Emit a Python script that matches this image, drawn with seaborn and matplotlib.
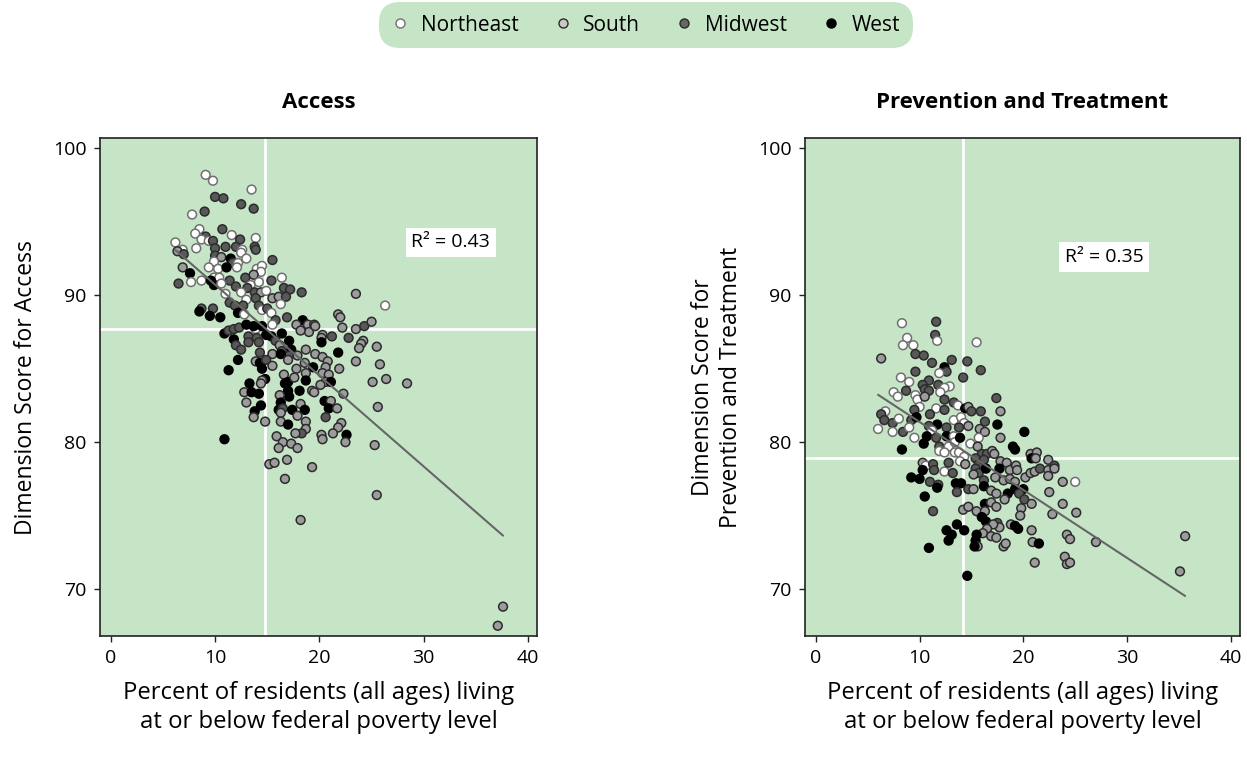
import numpy as np
import pandas as pd
import matplotlib
matplotlib.use('Agg')
import matplotlib.pyplot as plt
from matplotlib.lines import Line2D
import seaborn as sns

# Region names and marker styles
REGIONS = ['Northeast', 'South', 'Midwest', 'West']
CODES = {'N': 'Northeast', 'S': 'South', 'M': 'Midwest', 'W': 'West'}
FILL = {'Northeast': '#ffffff', 'South': '#9c9c9c', 'Midwest': '#585858', 'West': '#000000'}
EDGE = {'Northeast': '#707070', 'South': '#2b2b2b', 'Midwest': '#2b2b2b', 'West': '#000000'}
LEGEND_FILL = {'Northeast': '#ffffff', 'South': '#c8c8c8', 'Midwest': '#666666', 'West': '#000000'}
BG = '#c6e5c7'

# Panel 1: Access
access_poverty = [
    9.1, 9.8, 13.5, 10.0, 10.8, 12.5, 13.7, 9.0, 7.8, 10.7,
    8.5, 8.1, 11.6, 13.9, 9.1, 8.7, 9.4, 9.8, 6.2, 12.4,
    11.0, 12.0, 12.6, 13.8, 13.9, 10.0, 8.2, 6.9, 6.4, 7.0,
    10.0, 10.6, 11.5, 12.5, 13.0, 9.9, 11.7, 12.2, 15.5, 6.9,
    9.4, 10.3, 11.1, 12.1, 14.0, 14.5, 14.4, 7.6, 9.9, 10.4,
    11.4, 12.9, 13.7, 16.4, 6.5, 7.7, 8.7, 9.6, 9.9, 10.6,
    14.2, 15.4, 12.0, 13.4, 13.1, 11.0, 12.5, 13.8, 14.4, 14.9,
    16.6, 17.2, 18.3, 15.5, 16.1, 16.8, 13.0, 13.9, 11.4, 11.9,
    12.7, 16.3, 8.7, 8.5, 9.8, 14.2, 14.5, 15.0, 15.4, 9.5,
    10.5, 12.2, 12.8, 16.9, 15.8, 18.4, 17.8, 18.9, 19.5, 15.5,
    19.0, 18.2, 10.9, 11.3, 11.8, 12.3, 13.0, 13.9, 13.7, 14.5,
    14.9, 15.4, 16.4, 15.8, 16.2, 11.8, 13.2, 14.0, 12.0, 12.5,
    13.2, 14.2, 17.1, 17.3, 16.4, 17.1, 17.9, 18.7, 14.3, 15.5,
    16.3, 17.0, 12.2, 13.9, 14.3, 14.9, 14.5, 15.5, 19.4, 18.6,
    11.3, 16.6, 17.8, 18.7, 14.8, 14.5, 14.4, 17.0, 16.7, 17.6,
    18.7, 13.3, 12.8, 13.5, 14.2, 17.0, 17.1, 16.2, 18.1, 19.3,
    19.5, 13.0, 14.4, 16.3, 13.8, 16.1, 16.5, 16.3, 17.4, 18.2,
    18.6, 17.9, 13.7, 14.8, 16.3, 17.0, 18.7, 18.7, 18.3, 17.7,
    15.9, 10.9, 16.5, 17.3, 17.9, 16.1, 16.9, 15.2, 15.7, 19.3,
    16.7, 23.5, 26.3, 21.8, 22.0, 19.6, 20.3, 22.2, 23.5,
    24.3, 25.0, 21.2, 22.8, 20.2, 20.2, 24.2, 24.0, 23.8, 25.5,
    19.6, 20.3, 20.8, 21.8, 23.5, 25.8, 20.6, 21.9, 20.3, 20.9,
    26.4, 25.1, 28.4, 20.6, 21.1, 20.1, 22.3, 20.5, 21.1, 20.9,
    21.7, 25.6, 20.6, 22.1, 21.8, 21.3, 20.2, 20.3, 22.6, 22.5,
    25.3, 25.5, 18.2, 37.6, 37.1,
]
access_score = [
    98.2, 97.8, 97.2, 96.7, 96.6, 96.2, 95.9, 95.7, 95.5, 94.5,
    94.5, 94.2, 94.1, 93.9, 94.0, 93.8, 93.7, 93.7, 93.6, 93.8,
    93.3, 93.3, 93.1, 93.3, 93.1, 93.2, 93.2, 93.1, 93.0, 92.8,
    92.7, 92.6, 92.5, 92.9, 92.5, 92.3, 92.2, 92.2, 92.4, 91.9,
    91.9, 91.8, 91.9, 91.9, 91.8, 92.0, 91.6, 91.5, 91.2, 91.2,
    91.0, 91.2, 91.4, 91.2, 90.8, 90.9, 91.0, 91.0, 90.7, 90.8,
    90.9, 91.0, 90.6, 90.7, 90.5, 90.1, 90.2, 90.2, 90.2, 90.3,
    90.5, 90.4, 90.2, 89.8, 89.9, 89.9, 89.7, 89.8, 89.5, 89.3,
    89.3, 89.4, 89.1, 88.9, 89.1, 89.3, 89.0, 89.1, 88.8, 88.6,
    88.5, 88.8, 88.7, 88.5, 88.3, 88.3, 88.0, 88.0, 88.0, 88.0,
    87.5, 87.6, 87.4, 87.6, 87.7, 87.8, 88.0, 87.7, 87.9, 87.9,
    87.3, 87.2, 87.4, 86.9, 86.6, 87.0, 87.2, 87.1, 86.6, 86.3,
    86.8, 86.8, 86.9, 86.3, 86.2, 85.9, 85.9, 86.3, 86.1, 86.0,
    86.0, 85.6, 85.6, 85.5, 85.4, 85.6, 85.0, 85.2, 85.1, 85.4,
    84.9, 84.6, 85.0, 84.7, 84.3, 84.2, 84.0, 84.1, 84.0, 84.4,
    84.2, 84.0, 83.4, 83.4, 83.3, 83.5, 83.1, 83.2, 83.5, 83.5,
    83.4, 82.7, 82.5, 82.7, 82.1, 82.2, 82.3, 82.0, 82.2, 82.6,
    82.2, 81.8, 81.7, 81.4, 81.4, 81.2, 81.4, 80.9, 80.6, 80.6,
    80.4, 80.2, 80.0, 79.9, 79.6, 79.6, 78.8, 78.5, 78.6, 78.3,
    77.5, 90.1, 89.3, 88.7, 88.5, 87.9, 87.3, 87.8, 87.7,
    87.9, 88.2, 87.2, 87.1, 87.1, 86.8, 86.9, 86.7, 86.4, 86.5,
    86.0, 85.8, 85.5, 86.1, 85.5, 85.3, 85.1, 85.0, 84.7, 84.6,
    84.3, 84.1, 84.0, 84.1, 84.1, 83.9, 83.3, 82.8, 82.8, 82.3,
    82.3, 82.4, 81.7, 81.3, 81.0, 80.6, 80.5, 80.2, 80.5, 80.0,
    79.8, 76.4, 74.7, 68.8, 67.5,
]
access_region = (
    "NNNMMMMMNM" "NNNNMNNMNM" "MMNMMMNNSM" "MSWNNNMNMS" "NNWNNNNWNN"
    "MMSNMNNWWN" "NMMNMNNMSN" "MMMSSMNMMM" "MNMWMMNMNW" "WWNMMWSSSN"
    "SSWMMMWNWW" "WWWMSWMMMM" "MMWWMMSSMS" "WSWSWMWSWS" "WSSSWSSWWS"
    "WWSWWWWSWS" "SSWWWWMSWS" "WSSSSWSSMS" "SWSSSSSSSS" "SSNSSSSSS"
    "MSMMSWSSSS" "SSSWSSSSSS" "SSSSWSSWSW" "SSMSSSSSWS" "SSSSS"
)

# Panel 2: Prevention and Treatment
prev_poverty = [
    8.3, 11.6, 11.5, 8.8, 8.4, 9.4, 11.7, 15.5, 6.3, 9.6,
    10.4, 11.2, 13.1, 14.6, 15.9, 12.4, 12.6, 11.9, 9.6, 14.2,
    8.2, 9.0, 10.9, 10.3, 11.8, 12.9, 12.4, 12.0, 8.7, 7.5,
    7.9, 9.6, 9.8, 10.5, 10.9, 10.5, 12.4, 13.3, 13.7, 17.4,
    10.0, 9.5, 11.6, 12.4, 14.4, 14.7, 15.0, 15.9, 17.8, 6.7,
    6.3, 6.6, 7.4, 8.0, 8.4, 7.4, 6.0, 9.2, 9.7, 9.0,
    9.5, 11.0, 11.7, 10.9, 11.2, 12.6, 13.3, 14.0, 14.3, 13.8,
    14.7, 16.3, 17.5, 15.8, 16.3, 15.7, 17.8, 20.1, 10.7, 11.6,
    12.6, 13.3, 11.9, 12.8, 13.4, 13.9, 14.9, 15.6, 10.4, 8.3,
    11.9, 12.4, 13.4, 13.8, 14.3, 13.9, 14.4, 16.0, 16.5, 17.0,
    17.2, 19.0, 19.2, 20.7, 21.3, 20.8, 21.2, 22.4, 15.4, 15.7,
    16.2, 17.8, 18.4, 10.3, 10.6, 10.3, 11.3, 11.4, 12.4, 12.8,
    13.2, 15.4, 15.7, 16.4, 15.2, 17.7, 18.7, 19.3, 19.4, 20.2,
    20.7, 21.1, 21.6, 22.4, 22.4, 9.2, 10.0, 11.0, 11.8, 11.7,
    13.5, 14.0, 13.6, 14.7, 15.2, 16.2, 17.3, 18.1, 18.7, 19.2,
    16.2, 16.9, 17.4, 18.5, 19.2, 20.0, 19.6, 20.1, 20.8, 22.5,
    18.2, 10.5, 11.3, 14.2, 14.7, 16.3, 16.9, 15.5, 16.3, 17.4,
    19.8, 19.7, 16.0, 16.4, 17.5, 17.7, 18.8, 19.2, 19.5, 17.1,
    16.5, 16.1, 20.8, 12.6, 13.6, 14.3, 13.1, 12.8, 15.5, 15.4,
    15.6, 15.3, 16.9, 17.4, 18.1, 18.3, 20.9, 21.5, 21.1, 10.9, 14.6,
    23.0, 23.0, 23.8, 25.0, 23.8, 25.1, 22.8, 24.2, 24.5, 27.0,
    35.6, 35.1, 24.0, 24.2, 24.5,
]
prev_score = [
    88.1, 88.2, 87.3, 87.1, 86.6, 86.6, 86.9, 86.8, 85.7, 86.0,
    85.9, 85.4, 85.6, 85.5, 84.9, 85.1, 84.8, 84.7, 84.8, 84.4,
    84.4, 84.1, 84.2, 83.9, 83.9, 83.8, 83.7, 83.4, 83.5, 83.4,
    83.1, 83.2, 82.9, 83.6, 83.5, 83.1, 82.9, 82.7, 82.5, 83.0,
    82.4, 82.2, 82.3, 82.2, 82.3, 82.4, 82.1, 82.1, 82.1, 82.1,
    81.9, 81.5, 81.3, 81.6, 80.7, 80.7, 80.9, 81.5, 81.7, 81.0,
    80.3, 81.9, 81.2, 81.1, 80.8, 81.0, 81.5, 81.7, 81.3, 81.0,
    81.1, 81.4, 81.2, 80.9, 80.7, 80.3, 80.3, 80.7, 80.4, 80.3,
    80.4, 80.4, 79.7, 79.7, 80.0, 80.3, 79.9, 79.7, 79.9, 79.5,
    79.4, 79.3, 79.3, 79.3, 79.0, 78.7, 78.5, 79.2, 79.2, 79.4,
    79.2, 79.7, 79.5, 79.2, 79.3, 78.9, 78.9, 78.8, 78.9, 78.5,
    78.8, 78.7, 78.6, 78.6, 78.4, 78.1, 78.5, 78.1, 78.0, 78.6,
    77.9, 78.2, 77.9, 78.2, 77.8, 78.2, 78.1, 78.4, 78.1, 77.6,
    77.9, 78.0, 78.2, 78.1, 77.7, 77.6, 77.5, 77.3, 77.1, 76.9,
    77.2, 77.2, 76.6, 76.8, 76.8, 77.4, 77.6, 77.4, 77.5, 77.3,
    77.0, 76.7, 76.5, 76.5, 76.8, 76.8, 76.5, 76.1, 75.8, 76.6,
    76.1, 76.3, 75.3, 75.4, 75.6, 75.8, 75.9, 75.3, 75.3, 75.6,
    75.5, 75.0, 74.9, 74.6, 74.5, 74.2, 74.4, 74.3, 74.1, 74.4,
    74.1, 73.8, 74.0, 74.0, 74.4, 74.0, 73.7, 73.3, 73.7, 73.3,
    72.9, 72.9, 73.6, 73.5, 72.9, 73.1, 73.2, 73.1, 71.8, 72.8, 70.9,
    78.4, 78.2, 77.3, 77.3, 75.8, 75.2, 75.1, 73.7, 73.4, 73.2,
    73.6, 71.2, 72.2, 71.7, 71.8,
]
prev_region = (
    "NMMNNNNNSM" "MMMMMWMNMM" "NNMMMNNNMN" "NNNMMSMMNM" "NMNMWSMMSN"
    "MMMNMNNMWN" "NMWMNMNNNM" "SMWSSNSWWM" "WNMNNWNSWW" "NNNNNNSMMS"
    "SWWSSWSSMM" "MSSSNWMMNM" "MMMWSWSSSS" "SSMSSWWMMW" "WWMMSMSSSS"
    "WSSWWWMMSS" "SWMSSWSSSS" "SSWWMSSWWS" "SSSWWWWWWW" "SWSSSSSWSWW"
    "MSSNSSSSSS" "SSSSS"
)

# Reference cross lines and fit statistics
access_cross = (14.8, 87.7)
prev_cross = (14.2, 78.9)
access_r2 = '0.43'
prev_r2 = '0.35'

sns.set_theme(style='ticks')
plt.rcParams['font.family'] = ['Open Sans', 'DejaVu Sans']
plt.rcParams['text.color'] = 'black'
plt.rcParams['axes.labelcolor'] = 'black'
plt.rcParams['xtick.color'] = 'black'
plt.rcParams['ytick.color'] = 'black'

fig = plt.figure(figsize=(12.47, 7.59), dpi=100)
ax1 = fig.add_axes([0.080, 0.162, 0.351, 0.656])
ax2 = fig.add_axes([0.6455, 0.162, 0.349, 0.656])


def draw_panel(ax, poverty, score, region, cross, r2, r2_pos, title, ylabel):
    df = pd.DataFrame({'poverty': poverty, 'score': score,
                       'region': [CODES[c] for c in region]})
    ax.set_facecolor(BG)
    ax.axvline(cross[0], color='white', lw=2, zorder=1)
    ax.axhline(cross[1], color='white', lw=2, zorder=1)
    sns.scatterplot(data=df, x='poverty', y='score', hue='region',
                    palette=FILL, hue_order=REGIONS, s=40,
                    edgecolor=[EDGE[r] for r in df['region']], linewidth=1.1,
                    legend=False, ax=ax, zorder=2)
    sns.regplot(data=df, x='poverty', y='score', scatter=False, ci=None,
                truncate=True, line_kws=dict(color='#666666', lw=1.5, zorder=3), ax=ax)
    ax.text(r2_pos[0], r2_pos[1], 'R² = ' + r2, fontsize=14, ha='center', va='center',
            bbox=dict(boxstyle='square,pad=0.3', fc='white', ec='none'), zorder=4)
    ax.set_xlim(-1.05, 40.9)
    ax.set_ylim(66.8, 100.7)
    ax.set_xticks([0, 10, 20, 30, 40])
    ax.set_yticks([70, 80, 90, 100])
    ax.tick_params(labelsize=14, length=4.5, width=1, color='#222222', pad=5)
    for sp in ax.spines.values():
        sp.set_visible(True)
        sp.set_color('#222222')
        sp.set_linewidth(1.2)
    ax.set_title(title, fontsize=16, fontweight='bold', pad=22)
    ax.set_xlabel('Percent of residents (all ages) living\nat or below federal poverty level',
                  fontsize=17.2, labelpad=10, linespacing=1.25)
    ax.set_ylabel(ylabel, fontsize=16.5, labelpad=11, linespacing=1.2)


draw_panel(ax1, access_poverty, access_score, access_region, access_cross, access_r2,
           (32.6, 93.6), 'Access', 'Dimension Score for Access')
draw_panel(ax2, prev_poverty, prev_score, prev_region, prev_cross, prev_r2,
           (27.8, 92.6), 'Prevention and Treatment',
           'Dimension Score for\nPrevention and Treatment')

handles = [Line2D([], [], marker='o', ls='none', markersize=6.5,
                  markerfacecolor=LEGEND_FILL[r], markeredgecolor=EDGE[r], markeredgewidth=1.0)
           for r in REGIONS]
leg = fig.legend(handles, REGIONS, loc='upper center', bbox_to_anchor=(0.518, 0.997),
                 ncol=4, frameon=True, fontsize=15, handlelength=0.8, handletextpad=0.6,
                 columnspacing=1.7, borderpad=0.6, borderaxespad=0)
frame = leg.get_frame()
frame.set_facecolor(BG)
frame.set_edgecolor('none')
frame.set_alpha(1)
frame.set_boxstyle('round', pad=0, rounding_size=1.0)

fig.savefig('out.png', dpi=100)
